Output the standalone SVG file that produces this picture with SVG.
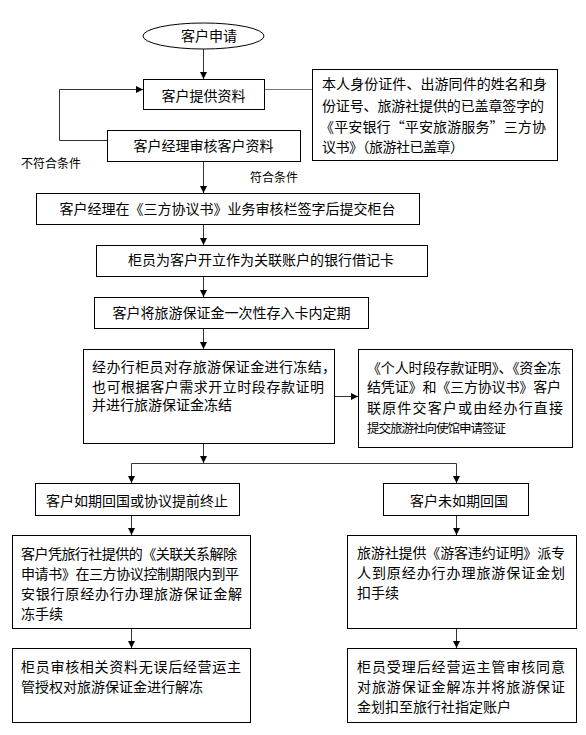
<svg xmlns="http://www.w3.org/2000/svg" width="586" height="735" viewBox="0 0 586 735">
<style>
.n{fill:#fff;stroke:#000;stroke-width:1}
.t{font-family:"Noto Sans CJK SC","Noto Sans CJK JP",sans-serif;font-size:14px;fill:#000}
.c{text-anchor:middle}
.s{font-size:12px}
.e{fill:none;stroke:#333;stroke-width:1}
.g{fill:none;stroke:#777;stroke-width:1}
</style>
<defs>
<marker id="a" markerUnits="userSpaceOnUse" markerWidth="8" markerHeight="8" refX="7" refY="4" orient="auto">
<path d="M0,0.5 L7,4 L0,7.5 z" fill="#000"/>
</marker>
</defs>
<rect width="586" height="735" fill="#fff"/>
<g id="connectors">
<path class="e" d="M203.5,49 V79" marker-end="url(#a)"/>
<path class="e" d="M107,140.5 H59.5 V89.5 H143" marker-end="url(#a)"/>
<path class="g" d="M264,89.5 H312"/>
<path class="e" d="M203.5,161 V193" marker-end="url(#a)"/>
<path class="e" d="M203.5,224 V245" marker-end="url(#a)"/>
<path class="e" d="M203.5,276 V297" marker-end="url(#a)"/>
<path class="e" d="M203.5,328 V349" marker-end="url(#a)"/>
<path class="e" d="M334,396.5 H358" marker-end="url(#a)"/>
<path class="e" d="M203.5,443 V463" marker-end="url(#a)"/>
<path class="e" d="M131.5,463.5 H456.5"/>
<path class="e" d="M131.5,463.5 V483" marker-end="url(#a)"/>
<path class="e" d="M456.5,463.5 V483" marker-end="url(#a)"/>
<path class="e" d="M131.5,515 V535" marker-end="url(#a)"/>
<path class="e" d="M456.5,515 V535" marker-end="url(#a)"/>
<path class="e" d="M131.5,628 V648" marker-end="url(#a)"/>
<path class="e" d="M456.5,628 V648" marker-end="url(#a)"/>
<text class="t s" x="21" y="167.5">不符合条件</text>
<text class="t s" x="250" y="182">符合条件</text>
</g>
<g id="start">
<ellipse class="n" cx="203.5" cy="36" rx="60.5" ry="13"/>
<text class="t c" x="209" y="40.5">客户申请</text>
</g>
<g id="provide">
<rect class="n" x="143.5" y="79.5" width="121" height="30"/>
<text class="t c" x="203.5" y="100.5">客户提供资料</text>
</g>
<g id="materials">
<rect class="n" x="312.5" y="69.5" width="245" height="91"/>
<text class="t" x="322" y="88.5" textLength="225">本人身份证件、出游同件的姓名和身</text>
<text class="t" x="322" y="110.5" textLength="222">份证号、旅游社提供的已盖章签字的</text>
<text class="t" x="320" y="132" textLength="226">《平安银行“平安旅游服务”三方协</text>
<text class="t" x="322" y="152" textLength="142">议书》（旅游社已盖章）</text>
</g>
<g id="review">
<rect class="n" x="107.5" y="130.5" width="193" height="31"/>
<text class="t c" x="203.5" y="150.5">客户经理审核客户资料</text>
</g>
<g id="sign">
<rect class="n" x="36.5" y="193.5" width="383" height="31"/>
<text class="t c" x="227.5" y="214">客户经理在《三方协议书》业务审核栏签字后提交柜台</text>
</g>
<g id="open">
<rect class="n" x="96.5" y="245.5" width="331" height="31"/>
<text class="t c" x="261" y="264.5">柜员为客户开立作为关联账户的银行借记卡</text>
</g>
<g id="deposit">
<rect class="n" x="94.5" y="297.5" width="274" height="31"/>
<text class="t c" x="231.5" y="317.5">客户将旅游保证金一次性存入卡内定期</text>
</g>
<g id="freeze">
<rect class="n" x="83.5" y="349.5" width="251" height="94"/>
<text class="t" x="92" y="372" textLength="244">经办行柜员对存旅游保证金进行冻结，</text>
<text class="t" x="92" y="391.5" textLength="232">也可根据客户需求开立时段存款证明</text>
<text class="t" x="92" y="410">并进行旅游保证金冻结</text>
</g>
<g id="visa">
<rect class="n" x="358.5" y="349.5" width="214" height="98"/>
<text class="t" x="367" y="372.5" textLength="194">《个人时段存款证明》、《资金冻</text>
<text class="t" x="367" y="392" textLength="194">结凭证》和《三方协议书》客户</text>
<text class="t" x="367" y="413" textLength="196">联原件交客户或由经办行直接</text>
<text class="t" x="367" y="433" style="font-size:12.5px" textLength="139">提交旅游社向使馆申请签证</text>
</g>
<g id="ontime">
<rect class="n" x="35.5" y="483.5" width="204" height="32"/>
<text class="t c" x="137" y="505.5">客户如期回国或协议提前终止</text>
</g>
<g id="late">
<rect class="n" x="383.5" y="483.5" width="145" height="32"/>
<text class="t c" x="459" y="505.5">客户未如期回国</text>
</g>
<g id="unfreeze-apply">
<rect class="n" x="12.5" y="535.5" width="238" height="93"/>
<text class="t" x="21" y="559" textLength="216">客户凭旅行社提供的《关联关系解除</text>
<text class="t" x="21" y="579" textLength="218">申请书》在三方协议控制期限内到平</text>
<text class="t" x="21" y="598.5" textLength="221">安银行原经办行办理旅游保证金解</text>
<text class="t" x="21" y="618.5">冻手续</text>
</g>
<g id="breach">
<rect class="n" x="347.5" y="535.5" width="229" height="93"/>
<text class="t" x="357" y="558" textLength="208">旅游社提供《游客违约证明》派专</text>
<text class="t" x="357" y="578" textLength="208">人到原经办行办理旅游保证金划</text>
<text class="t" x="357" y="598">扣手续</text>
</g>
<g id="unfreeze">
<rect class="n" x="12.5" y="648.5" width="238" height="74"/>
<text class="t" x="21" y="672" textLength="220">柜员审核相关资料无误后经营运主</text>
<text class="t" x="21" y="692">管授权对旅游保证金进行解冻</text>
</g>
<g id="transfer">
<rect class="n" x="347.5" y="648.5" width="229" height="74"/>
<text class="t" x="357" y="672" textLength="208">柜员受理后经营运主管审核同意</text>
<text class="t" x="357" y="692" textLength="208">对旅游保证金解冻并将旅游保证</text>
<text class="t" x="357" y="712">金划扣至旅行社指定账户</text>
</g>
</svg>
